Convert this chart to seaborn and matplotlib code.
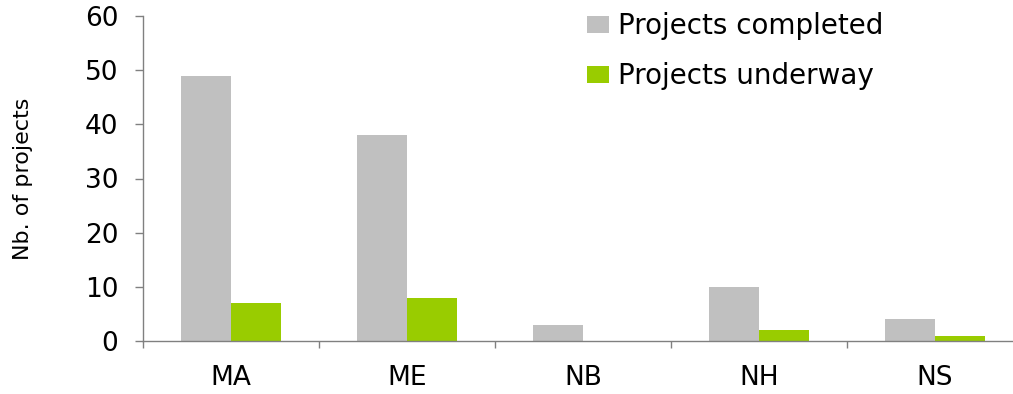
import matplotlib
matplotlib.use("Agg")
import matplotlib.pyplot as plt
import seaborn as sns
import pandas as pd
import numpy as np
from matplotlib.ticker import FixedLocator

regions = ["MA", "ME", "NB", "NH", "NS"]
completed = [49, 38, 3, 10, 4]
underway = [7, 8, 0, 2, 1]
series_names = ["Projects completed", "Projects underway"]
colors = ["#C0C0C0", "#99CC00"]

sns.set_style("white")
plt.rcParams['font.family'] = ['DejaVu Sans']

df = pd.DataFrame({
    "region": regions * 2,
    "value": completed + underway,
    "series": [series_names[0]] * len(regions) + [series_names[1]] * len(regions),
})

W, H = 1013, 394
fig = plt.figure(figsize=(W / 100, H / 100), dpi=100)
ax = fig.add_axes([143 / W, 1 - 341 / H, 880 / W, 325 / H])

sns.barplot(data=df, x="region", y="value", hue="series", palette=colors,
            width=0.57, saturation=1, ax=ax, linewidth=0, edgecolor="none")

ax.set_xlim(-0.5, 4.5)
ax.set_ylim(0, 60)
ax.set_yticks([0, 10, 20, 30, 40, 50, 60])
ax.tick_params(axis="y", direction="out", length=5.8, width=1, color="#808080",
               labelsize=19, labelcolor="black", pad=12, left=True)
ax.tick_params(axis="x", which="major", length=0, labelsize=19,
               labelcolor="black", pad=17)
ax.xaxis.set_minor_locator(FixedLocator(np.arange(-0.5, 5.0, 1.0)))
ax.tick_params(axis="x", which="minor", direction="out", length=5.2, width=1,
               color="#808080", bottom=True)

for s in ["top", "right"]:
    ax.spines[s].set_visible(False)
for s in ["left", "bottom"]:
    ax.spines[s].set_color("#808080")
    ax.spines[s].set_linewidth(1)

ax.set_xlabel("")
ax.set_ylabel("Nb. of projects", fontsize=16, color="black")
ax.yaxis.set_label_coords((33 - 143) / 880, 0.5)

leg = ax.legend(loc="upper left", bbox_to_anchor=(587 / W, 1 - 12 / H),
                bbox_transform=fig.transFigure, frameon=False,
                fontsize=20, handlelength=0.79, handleheight=0.58,
                labelspacing=0.8, handletextpad=0.33, borderpad=0,
                borderaxespad=0)
for t in leg.get_texts():
    t.set_color("black")

fig.savefig("out.png", dpi=100)
